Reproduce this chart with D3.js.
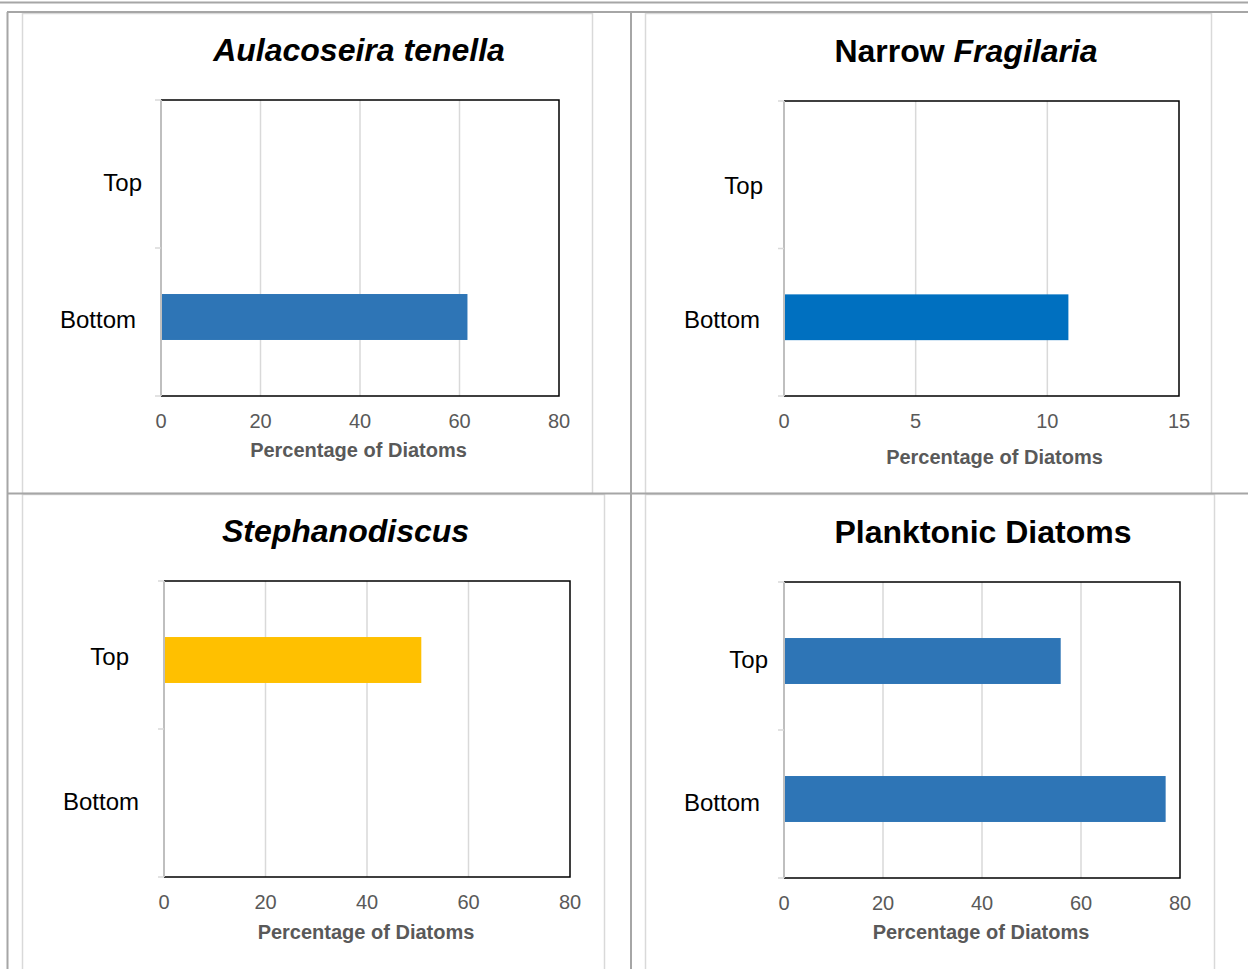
<!DOCTYPE html>
<html><head><meta charset="utf-8">
<script src="https://cdn.jsdelivr.net/npm/d3@7"></script>
<style>
html,body{margin:0;padding:0;background:#fff;}
svg{display:block;font-family:"Liberation Sans",Arial,sans-serif;}
</style></head>
<body>
<svg id="c" width="1248" height="969"></svg>
<script>
// ---- data ----
const categories = ["Top", "Bottom"];
const titleAulacoseira = [["Aulacoseira tenella", true]];
const titleFragilaria = [["Narrow ", false], ["Fragilaria", true]];
const titleStephanodiscus = [["Stephanodiscus", true]];
const titlePlanktonic = [["Planktonic Diatoms", false]];
const valuesAulacoseira = [null, 61.6];
const valuesFragilaria = [null, 10.8];
const valuesStephanodiscus = [50.7, null];
const valuesPlanktonic = [55.9, 77.1];
const ticks80 = [0, 20, 40, 60, 80];
const ticks15 = [0, 5, 10, 15];
const xAxisTitle = "Percentage of Diatoms";

// ---- layout / style ----
const panels = [
  {title: titleAulacoseira, values: valuesAulacoseira, ticks: ticks80, color: "#2E75B6",
   box: [22, 13, 592, 493], plot: [161, 100, 559, 396], titleX: 359, titleY: 61,
   axTitleX: 358.5, axTitleDy: 61, labelOff: [19, 25], labelDy: [1, 0]},
  {title: titleFragilaria, values: valuesFragilaria, ticks: ticks15, color: "#0070C0",
   box: [645, 13, 1211, 493], plot: [784, 101, 1179, 396], titleX: 966, titleY: 62,
   axTitleX: 994.5, axTitleDy: 68, labelOff: [21, 24], labelDy: [3, 0]},
  {title: titleStephanodiscus, values: valuesStephanodiscus, ticks: ticks80, color: "#FFC000",
   box: [22, 494, 604, 975], plot: [164, 581, 570, 877], titleX: 345.5, titleY: 542,
   axTitleX: 366, axTitleDy: 62, labelOff: [35, 25], labelDy: [-6, 1]},
  {title: titlePlanktonic, values: valuesPlanktonic, ticks: ticks80, color: "#2E75B6",
   box: [645, 494, 1214, 975], plot: [784, 582, 1180, 878], titleX: 983, titleY: 543,
   axTitleX: 981, axTitleDy: 61, labelOff: [16, 24], labelDy: [-4, 1]}
];

const svg = d3.select("#c");
svg.append("rect").attr("width", 1248).attr("height", 969).attr("fill", "#fff");

// panel frames
panels.forEach(p => {
  const [x0, y0, x1, y1] = p.box;
  svg.append("rect").attr("x", x0 + 0.5).attr("y", y0 + 0.5)
    .attr("width", x1 - x0).attr("height", y1 - y0)
    .attr("fill", "#fff").attr("stroke", "#d9d9d9").attr("stroke-width", 1.5);
});

// spreadsheet grid lines
const gridColor = "#a6a6a6";
[[0, 2.5, 1248, 2.5], [7, 12, 1248, 12], [7, 493.5, 1248, 493.5],
 [7.5, 12, 7.5, 969], [631, 12, 631, 969]].forEach(l => {
  svg.append("line").attr("x1", l[0]).attr("y1", l[1]).attr("x2", l[2]).attr("y2", l[3])
    .attr("stroke", gridColor).attr("stroke-width", 2);
});

panels.forEach(p => {
  const [px0, py0, px1, py1] = p.plot;
  const g = svg.append("g");
  const xMax = p.ticks[p.ticks.length - 1];
  const x = d3.scaleLinear().domain([0, xMax]).range([px0, px1]);
  const y = d3.scaleBand().domain(categories).range([py0, py1])
    .paddingInner(0.667).paddingOuter(0.406);

  // gridlines
  g.selectAll("line.grid").data(p.ticks.slice(1, -1)).join("line")
    .attr("x1", d => x(d)).attr("x2", d => x(d))
    .attr("y1", py0).attr("y2", py1)
    .attr("stroke", "#d9d9d9").attr("stroke-width", 1.5);

  // bars
  const data = categories.map((c, i) => ({c, v: p.values[i]})).filter(d => d.v != null);
  g.selectAll("rect.bar").data(data).join("rect")
    .attr("x", x(0)).attr("y", d => y(d.c))
    .attr("width", d => x(d.v) - x(0)).attr("height", y.bandwidth())
    .attr("fill", p.color);

  // plot border (black top/right/bottom)
  g.append("path")
    .attr("d", `M${px0},${py0}H${px1}V${py1}H${px0}`)
    .attr("fill", "none").attr("stroke", "#000").attr("stroke-width", 1.5);

  // category axis line (gray) and outer ticks
  g.append("line").attr("x1", px0).attr("x2", px0).attr("y1", py0).attr("y2", py1)
    .attr("stroke", "#bfbfbf").attr("stroke-width", 2);
  g.selectAll("line.ytick").data([py0, (py0 + py1) / 2, py1]).join("line")
    .attr("x1", px0 - 6).attr("x2", px0).attr("y1", d => d).attr("y2", d => d)
    .attr("stroke", "#d9d9d9").attr("stroke-width", 1.5);

  // x tick labels
  g.selectAll("text.xt").data(p.ticks).join("text")
    .attr("x", d => x(d)).attr("y", py1 + 32)
    .attr("text-anchor", "middle").attr("font-size", 20).attr("fill", "#595959")
    .text(d => d);

  // category labels
  g.selectAll("text.cat").data(categories).join("text")
    .attr("x", (d, i) => px0 - p.labelOff[i])
    .attr("y", (d, i) => y(d) + y.bandwidth() / 2 + 11 + p.labelDy[i])
    .attr("text-anchor", "end").attr("font-size", 24).attr("fill", "#000")
    .text(d => d);

  // axis title
  g.append("text").attr("x", p.axTitleX).attr("y", py1 + p.axTitleDy)
    .attr("text-anchor", "middle").attr("font-size", 20).attr("font-weight", "bold")
    .attr("fill", "#595959").text(xAxisTitle);

  // chart title
  const t = g.append("text").attr("x", p.titleX).attr("y", p.titleY)
    .attr("text-anchor", "middle").attr("font-size", 32).attr("font-weight", "bold")
    .attr("fill", "#000");
  t.selectAll("tspan").data(p.title).join("tspan")
    .attr("font-style", d => d[1] ? "italic" : "normal")
    .text(d => d[0]);
});
</script>
</body></html>
